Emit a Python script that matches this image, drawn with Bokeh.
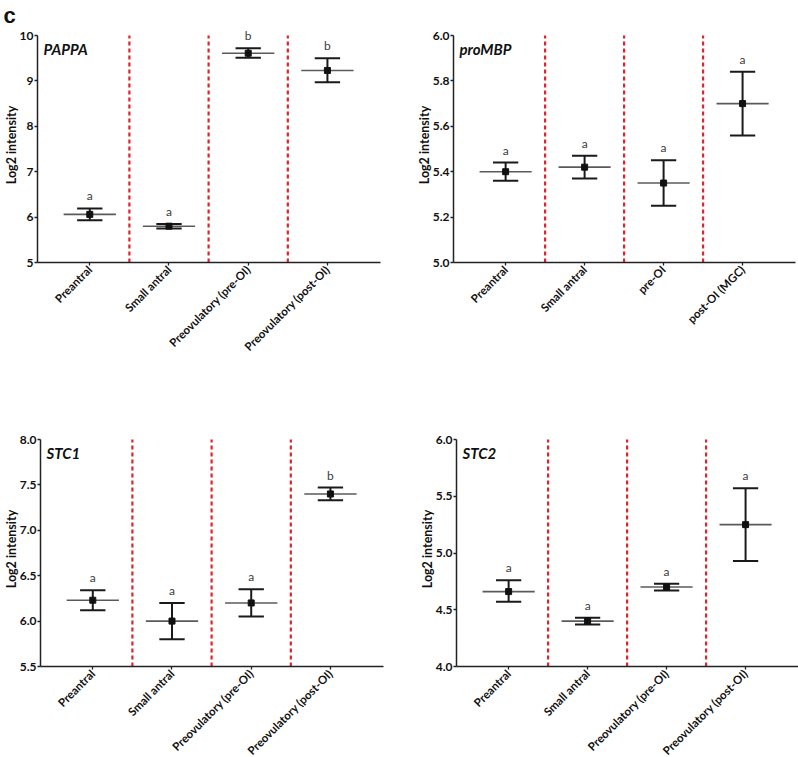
import math
from bokeh.plotting import figure
from bokeh.models import Range1d, FixedTicker, Label, LabelSet, PrintfTickFormatter, ColumnDataSource
from bokeh.layouts import column, row
from bokeh.core.properties import value
from bokeh.embed import file_html
from bokeh.resources import INLINE

categories_a = ["Preantral", "Small antral", "Preovulatory (pre-OI)", "Preovulatory (post-OI)"]
categories_b = ["Preantral", "Small antral", "pre-OI", "post-OI (MGC)"]

pappa_mean = [6.06, 5.80, 9.61, 9.23]
pappa_upper = [6.19, 5.85, 9.72, 9.50]
pappa_lower = [5.93, 5.75, 9.51, 8.97]
pappa_letters = ["a", "a", "b", "b"]

prombp_mean = [5.40, 5.42, 5.35, 5.70]
prombp_upper = [5.44, 5.47, 5.45, 5.84]
prombp_lower = [5.36, 5.37, 5.25, 5.56]
prombp_letters = ["a", "a", "a", "a"]

stc1_mean = [6.23, 6.00, 6.20, 7.40]
stc1_upper = [6.34, 6.20, 6.35, 7.47]
stc1_lower = [6.12, 5.80, 6.05, 7.33]
stc1_letters = ["a", "a", "a", "b"]

stc2_mean = [4.66, 4.40, 4.70, 5.25]
stc2_upper = [4.76, 4.43, 4.73, 5.57]
stc2_lower = [4.57, 4.37, 4.67, 4.93]
stc2_letters = ["a", "a", "a", "a"]

pappa_ticks = [5, 6, 7, 8, 9, 10]
prombp_ticks = [5.0, 5.2, 5.4, 5.6, 5.8, 6.0]
stc1_ticks = [5.5, 6.0, 6.5, 7.0, 7.5, 8.0]
stc2_ticks = [4.0, 4.5, 5.0, 5.5, 6.0]

FONT = "Lato"
RED = "#e0242b"
AXIS_H = 227          # pixel height of the drawn axis
HEADROOM = 8          # extra room above the axis so letters are not clipped


def panel(gene, cats, mean, upper, lower, letters, yticks, fmt,
          fw, bl, br, bt, bb, show_c=False):
    xs = list(range(1, len(cats) + 1))
    y0, y1 = yticks[0], yticks[-1]
    ext = (y1 - y0) * HEADROOM / AXIS_H
    p = figure(frame_width=fw, frame_height=AXIS_H + HEADROOM, output_backend="svg",
               toolbar_location=None,
               x_range=Range1d(0.34, len(cats) + 0.67),
               y_range=Range1d(y0, y1 + ext),
               min_border_left=bl, min_border_right=br,
               min_border_top=bt - HEADROOM, min_border_bottom=bb)
    p.outline_line_color = None
    p.xgrid.visible = False
    p.ygrid.visible = False

    # dividers between groups
    mids = [(a + b) / 2 for a, b in zip(xs[:-1], xs[1:])]
    p.segment(x0=mids, x1=mids, y0=[y0] * len(mids), y1=[y1] * len(mids),
              line_color=RED, line_width=2.2, line_dash="4 3")

    cap = 0.16
    half = 0.33
    p.segment(x0=[x - half for x in xs], x1=[x + half for x in xs],
              y0=mean, y1=mean, line_color="#5a5a5a", line_width=1.6)
    p.segment(x0=xs, x1=xs, y0=lower, y1=upper, line_color="#1a1a1a", line_width=2)
    p.segment(x0=[x - cap for x in xs], x1=[x + cap for x in xs],
              y0=upper, y1=upper, line_color="#1a1a1a", line_width=2)
    p.segment(x0=[x - cap for x in xs], x1=[x + cap for x in xs],
              y0=lower, y1=lower, line_color="#1a1a1a", line_width=2)
    p.scatter(x=xs, y=mean, marker="square", size=6, color="#111111")

    src = ColumnDataSource(dict(x=xs, y=upper, t=letters))
    p.add_layout(LabelSet(x="x", y="y", text="t", source=src, text_align="center",
                          text_baseline="bottom", y_offset=5, text_font_size="12px",
                          text_color="#3a3a3a", text_font=value(FONT)))

    p.add_layout(Label(x=p.x_range.start, y=y1, x_offset=6,
                       y_offset=-4, text=gene, text_baseline="top",
                       text_font=FONT, text_font_size="15px",
                       text_font_style="bold italic", text_color="#111111"))
    if show_c:
        p.title.text = "c"
        p.title.align = "left"
        p.title.offset = -34
        p.title.standoff = 0
        p.title.text_font = "Liberation Sans"
        p.title.text_font_size = "22px"
        p.title.text_font_style = "bold"
        p.title.text_color = "#111111"
        p.title.text_line_height = 0.8

    p.xaxis.ticker = FixedTicker(ticks=xs)
    p.xaxis.major_label_overrides = {x: c for x, c in zip(xs, cats)}
    p.xaxis.major_label_orientation = math.pi / 4
    p.yaxis.ticker = FixedTicker(ticks=yticks)
    p.yaxis.formatter = PrintfTickFormatter(format=fmt)
    p.yaxis.bounds = (y0, y1)
    p.yaxis.axis_label = "Log2 intensity"
    for ax in (p.xaxis, p.yaxis):
        ax.axis_line_color = "#222222"
        ax.axis_line_width = 1.5
        ax.major_tick_line_color = "#222222"
        ax.major_tick_line_width = 1.3
        ax.major_tick_out = 3
        ax.major_tick_in = 0
        ax.minor_tick_line_color = None
        ax.major_label_text_font = FONT
        ax.major_label_text_font_style = "bold"
        ax.major_label_text_color = "#111111"
        ax.major_label_standoff = 1
    p.xaxis.major_label_standoff = 2
    p.xaxis.major_label_text_font_size = "11.5px"
    p.yaxis.major_label_text_font_size = "12px"
    p.yaxis.axis_label_text_font = FONT
    p.yaxis.axis_label_text_font_size = "12.5px"
    p.yaxis.axis_label_text_font_style = "bold"
    p.yaxis.axis_label_text_color = "#111111"
    p.yaxis.axis_label_standoff = -2
    return p


p1 = panel("PAPPA", categories_a, pappa_mean, pappa_upper, pappa_lower,
           pappa_letters, pappa_ticks, "%d", 343, 37, 33, 31, 152, show_c=True)
p2 = panel("proMBP", categories_b, prombp_mean, prombp_upper, prombp_lower,
           prombp_letters, prombp_ticks, "%.1f", 342, 40, 3, 31, 152)
p3 = panel("STC1", categories_a, stc1_mean, stc1_upper, stc1_lower,
           stc1_letters, stc1_ticks, "%.1f", 343, 37, 33, 25, 90)
p4 = panel("STC2", categories_a, stc2_mean, stc2_upper, stc2_lower,
           stc2_letters, stc2_ticks, "%.1f", 342, 40, 3, 25, 90)

layout = column(row(p1, p2), row(p3, p4))
open("out.html", "w").write(file_html(layout, INLINE))
